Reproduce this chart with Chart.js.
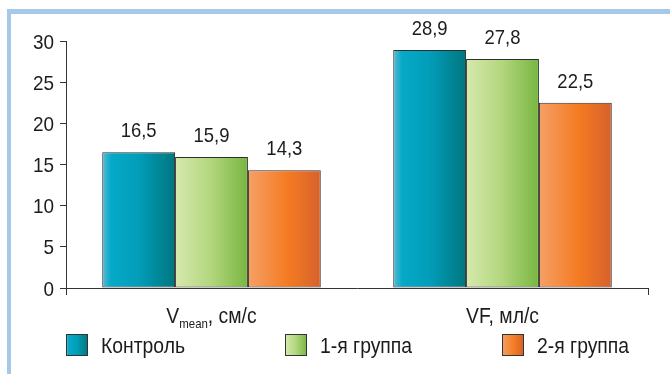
<!DOCTYPE html>
<html><head><meta charset="utf-8">
<script src="https://cdn.jsdelivr.net/npm/chart.js@4"></script>
<style>html,body{margin:0;padding:0;background:#fff;}canvas{display:block;}</style>
</head><body>
<canvas id="c" width="670" height="374"></canvas>
<script>
const categories = ['Vmean, см/с', 'VF, мл/с'];
const categoryParts = [['V', 'mean', ', см/с'], ['VF, мл/с', '', '']];
const seriesNames = ['Контроль', '1-я группа', '2-я группа'];
const control = [16.5, 28.9];
const group1 = [15.9, 27.8];
const group2 = [14.3, 22.5];
const yTicks = [0, 5, 10, 15, 20, 25, 30];

const FONT = '"Liberation Sans", Arial, sans-serif';
const TEXT = '#1c1c1c';
const gradStops = [
  [[0, '#5cb9d3'], [0.12, '#06a9c8'], [0.5, '#029db9'], [1, '#00767f']],
  [[0, '#d6e9ad'], [0.5, '#b2d67d'], [1, '#77b640']],
  [[0, '#f6a067'], [0.55, '#f47b22'], [1, '#d6612c']]
];
function makeGrad(ctx, x0, x1, stops) {
  const g = ctx.createLinearGradient(x0, 0, x1, 0);
  stops.forEach(s => g.addColorStop(s[0], s[1]));
  return g;
}
function textW(c, t, size, sx) { c.font = size + 'px ' + FONT; return c.measureText(t).width * sx; }
function drawT(c, t, x, y, size, sx) {
  c.save();
  c.font = size + 'px ' + FONT;
  c.textAlign = 'left';
  c.textBaseline = 'alphabetic';
  c.translate(x, y);
  c.scale(sx, 1);
  c.fillText(t, 0, 0);
  c.restore();
}

const framePlugin = {
  id: 'frame',
  beforeDraw(chart) {
    const c = chart.ctx;
    c.save();
    c.fillStyle = '#fff';
    c.fillRect(0, 0, chart.width, chart.height);
    c.fillStyle = '#a6c9ea';
    c.fillRect(7, 9, chart.width - 7, 5);
    c.fillRect(7, 9, 4, chart.height - 9);
    c.restore();
  }
};

const gradPlugin = {
  id: 'grad',
  beforeDatasetsDraw(chart) {
    chart.data.datasets.forEach((ds, di) => {
      const meta = chart.getDatasetMeta(di);
      meta.data.forEach(el => {
        const x0 = el.x - el.width / 2, x1 = el.x + el.width / 2;
        el.options = Object.assign({}, el.options, { backgroundColor: makeGrad(chart.ctx, x0, x1, gradStops[di]) });
      });
    });
  },
  afterDatasetsDraw(chart) {
    const c = chart.ctx;
    c.save();
    c.fillStyle = TEXT;
    // y tick labels
    const ys = chart.scales.y;
    ys.ticks.forEach(tk => {
      const t = String(tk.value);
      const w = textW(c, t, 21, 0.9);
      drawT(c, t, ys.right - 12 - w, ys.getPixelForValue(tk.value) + 7.5, 21, 0.9);
    });
    // value labels
    chart.data.datasets.forEach((ds, di) => {
      const meta = chart.getDatasetMeta(di);
      meta.data.forEach((el, i) => {
        const t = ds.data[i].toFixed(1).replace('.', ',');
        const w = textW(c, t, 21, 0.88);
        drawT(c, t, el.x - w / 2, el.y - 15, 21, 0.88);
      });
    });
    // x-axis end ticks
    const xs = chart.scales.x;
    c.strokeStyle = '#333';
    c.lineWidth = 1;
    [xs.left, xs.right].forEach(px => {
      const ax = Math.round(px) + 0.5;
      c.beginPath();
      c.moveTo(ax, xs.top);
      c.lineTo(ax, xs.top + 7);
      c.stroke();
    });
    // category labels
    const SX = 0.88;
    categoryParts.forEach((p, i) => {
      const cx = xs.getPixelForValue(i);
      const w0 = textW(c, p[0], 22, SX), w1 = textW(c, p[1], 13, SX), w2 = textW(c, p[2], 22, SX);
      let x = cx - (w0 + w1 + w2) / 2;
      const y = 323;
      drawT(c, p[0], x, y, 22, SX); x += w0;
      drawT(c, p[1], x, y + 5, 13, SX); x += w1;
      drawT(c, p[2], x, y, 22, SX);
    });
    // legend
    const boxX = [66, 285, 502];
    chart.data.datasets.forEach((ds, di) => {
      const bx = boxX[di], by = 334, bs = 22;
      c.fillStyle = makeGrad(c, bx, bx + bs, gradStops[di]);
      c.fillRect(bx, by, bs, bs);
      c.strokeStyle = '#333';
      c.lineWidth = 1;
      c.strokeRect(bx + 0.5, by + 0.5, bs - 1, bs - 1);
      c.fillStyle = TEXT;
      drawT(c, ds.label, bx + 35, 353, 22, SX);
    });
    c.restore();
  }
};

const mk = (label, data) => ({
  label, data,
  backgroundColor: '#888',
  borderColor: '#2e2e2e',
  borderWidth: 1,
  borderSkipped: false,
  categoryPercentage: 0.751,
  barPercentage: 1
});

new Chart(document.getElementById('c'), {
  type: 'bar',
  data: {
    labels: categories,
    datasets: [mk(seriesNames[0], control), mk(seriesNames[1], group1), mk(seriesNames[2], group2)]
  },
  options: {
    responsive: false,
    animation: false,
    devicePixelRatio: 1,
    layout: { padding: { left: 0, top: 41, right: 22, bottom: 0 } },
    plugins: { legend: { display: false }, tooltip: { enabled: false } },
    scales: {
      x: {
        ticks: { display: false },
        grid: { display: false },
        border: { display: true, color: '#333', width: 1 },
        afterFit: s => { s.height = 86; }
      },
      y: {
        min: 0, max: 30,
        afterBuildTicks: s => { s.ticks = yTicks.map(v => ({ value: v })); },
        ticks: { display: false },
        grid: { drawOnChartArea: false, tickLength: 6, color: '#333' },
        border: { display: true, color: '#333', width: 1 },
        afterFit: s => { s.width = 66; }
      }
    }
  },
  plugins: [framePlugin, gradPlugin]
});
</script>
</body></html>
